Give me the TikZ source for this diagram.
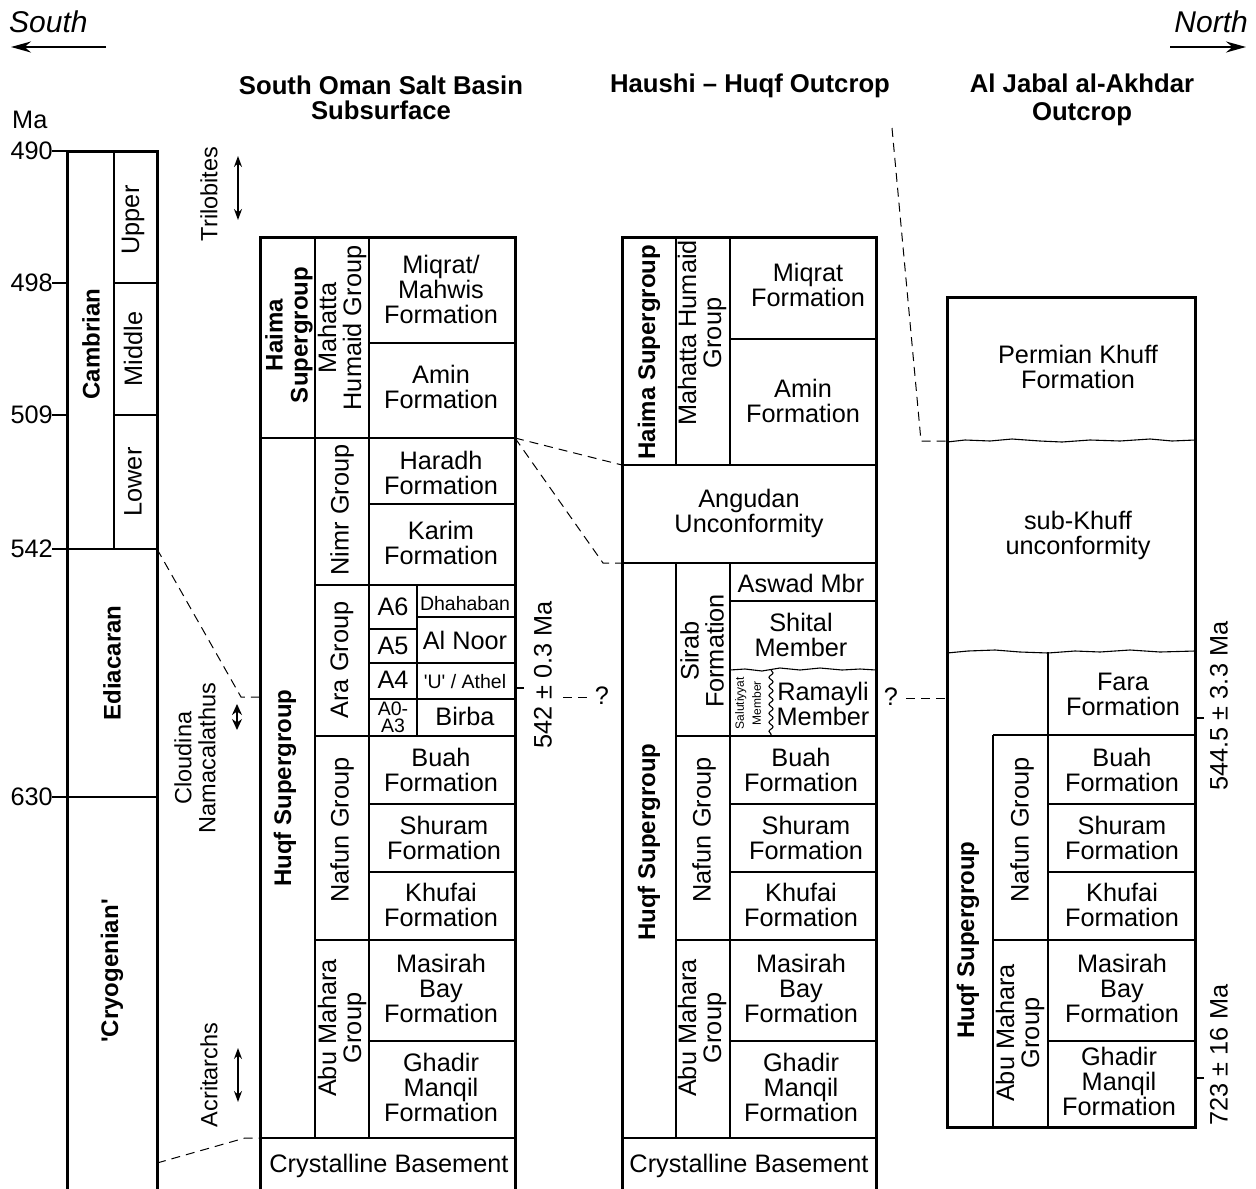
\documentclass[tikz,border=0pt]{standalone}
\usepackage{fontspec}
\setmainfont{Liberation Sans}
\usetikzlibrary{arrows.meta,decorations.pathmorphing}
\newcommand{\fz}{\fontsize{25.3}{25}\selectfont}
\newcommand{\fzb}{\fontsize{24}{25}\selectfont\bfseries}
\newcommand{\fzh}{\fontsize{25.7}{25.5}\selectfont\bfseries}
\newcommand{\fzs}{\fontsize{19.5}{17}\selectfont}
\newcommand{\fzt}{\fontsize{12}{17}\selectfont}
\begin{document}
\begin{tikzpicture}[x=1pt,y=-1pt,
  outerln/.style={line width=3pt, line join=miter},
  innerln/.style={line width=1.1pt},
  corrln/.style={line width=1pt, dash pattern=on 9pt off 6pt},
  txt/.style={font=\fz, align=center, inner sep=0pt},
  vtxt/.style={txt, rotate=90},
  btxt/.style={vtxt, font=\fzb},
  hdr/.style={txt, font=\fzh},
  fossarr/.style={line width=1.4pt, {Stealth[length=11pt,width=8pt]}-{Stealth[length=11pt,width=8pt]}},
  dirarr/.style={line width=2.2pt, -{Stealth[length=20pt,width=11pt]}},
  wavy/.style={innerln, decorate, decoration={snake, amplitude=2pt, segment length=9pt}}]
\useasboundingbox[fill=white] (0,0) rectangle (1256,1189);

% ---------- direction arrows ----------
\node[txt, font=\fontsize{30}{32}\selectfont\itshape, anchor=west] (south) at (9,22) {South};
\node[txt, font=\fontsize{30}{32}\selectfont\itshape, anchor=east] (north) at (1248,22) {North};
\coordinate (sA) at (106,47); \coordinate (sB) at (11,47);
\coordinate (nA) at (1170,47); \coordinate (nB) at (1246,47);
\draw[dirarr] (sA) -- (sB);
\draw[dirarr] (nA) -- (nB);

% ---------- headers ----------
\node[hdr] (h1) at (381,98) {South Oman Salt Basin\\Subsurface};
\node[hdr] (h2) at (750,86) {Haushi -- Huqf Outcrop};
\node[hdr, font=\fontsize{25.7}{28}\selectfont\bfseries] (h3) at (1082,100) {Al Jabal al-Akhdar\\Outcrop};

% ---------- time column ----------
\node[txt, anchor=west] (ma) at (12,120) {Ma};
\draw[outerln] (67,1189) -- (67,151) -- (157,151) -- (157,1189);
\draw[innerln] (114,151) -- (114,549);
\draw[innerln] (114,283) -- (157,283);
\draw[innerln] (114,415) -- (157,415);
\draw[innerln] (67,549) -- (157,549);
\draw[innerln] (67,797) -- (157,797);
\foreach \yy/\lab in {151/490, 283/498, 415/509, 549/542, 797/630}{
  \draw[innerln] (52,\yy) -- (67,\yy);
  \node[txt, anchor=east] (t\lab) at (53,\yy) {\lab};
}
\node[vtxt] (upper) at (133,220) {Upper};
\node[vtxt] (middle) at (133,349) {Middle};
\node[vtxt] (lower) at (133,482) {Lower};
\node[btxt] (cambrian) at (91,344) {Cambrian};
\node[btxt] (ediacaran) at (112,663) {Ediacaran};
\node[btxt] (cryo) at (112,971) {\textquotesingle Cryogenian\textquotesingle};

% ---------- fossils ----------
\node[vtxt, font=\fontsize{23.5}{24}\selectfont] (trilo) at (209,194) {Trilobites};
\coordinate (trA) at (238,156); \coordinate (trB) at (238,220);
\draw[fossarr] (trA) -- (trB);
\node[vtxt, font=\fontsize{23.5}{24}\selectfont] (cloud) at (195,758) {Cloudina\\Namacalathus};
\coordinate (clA) at (237,704); \coordinate (clB) at (237,730);
\draw[line width=1.4pt, {Stealth[length=11pt,width=10pt]}-{Stealth[length=11pt,width=10pt]}] (clA) -- (clB);
\node[vtxt, font=\fontsize{23.5}{24}\selectfont] (acri) at (209,1075) {Acritarchs};
\coordinate (acA) at (238,1048); \coordinate (acB) at (238,1102);
\draw[fossarr] (acA) -- (acB);

% ---------- column 2: South Oman Salt Basin ----------
\draw[outerln] (260,1189) -- (260,237) -- (515,237) -- (515,1189);
\draw[innerln] (315,237) -- (315,1138);
\draw[innerln] (369,237) -- (369,1138);
\draw[innerln] (417,585) -- (417,736);
\draw[innerln] (260,438) -- (515,438);
\draw[innerln] (260,1138) -- (515,1138);
\foreach \yy in {343,504,804,872,1041}{ \draw[innerln] (369,\yy) -- (515,\yy); }
\foreach \yy in {585,736,940}{ \draw[innerln] (315,\yy) -- (515,\yy); }
\foreach \yy in {629,663,699}{ \draw[innerln] (369,\yy) -- (417,\yy); }
\foreach \yy in {617,663,699}{ \draw[innerln] (417,\yy) -- (515,\yy); }

\node[btxt] (haima2) at (289,335) {Haima\\Supergroup};
\node[vtxt] (mah2) at (342,328) {Mahatta\\Humaid Group};
\node[btxt] (huqf2) at (285,788) {Huqf Supergroup};
\node[vtxt] (nimr2) at (342,510) {Nimr Group};
\node[vtxt] (ara2) at (342,660) {Ara Group};
\node[vtxt] (nafun2) at (342,830) {Nafun Group};
\node[vtxt] (abu2) at (342,1028) {Abu Mahara\\Group};

\node[txt] (miq2) at (441,289) {Miqrat/\\Mahwis\\Formation};
\node[txt] (amin2) at (441,387) {Amin\\Formation};
\node[txt] (har2) at (441,473) {Haradh\\Formation};
\node[txt] (kar2) at (441,543) {Karim\\Formation};
\node[txt] (a6) at (393,607) {A6};
\node[txt, font=\fzs] (dha) at (465,604) {Dhahaban};
\node[txt] (a5) at (393,646) {A5};
\node[txt] (alnoor) at (465,640) {Al Noor};
\node[txt] (a4) at (393,680) {A4};
\node[txt, font=\fzs] (athel) at (465,682) {\textquotesingle U\textquotesingle\ / Athel};
\node[txt, font=\fzs] (a03) at (393,717) {A0-\\A3};
\node[txt] (birba) at (465,716) {Birba};
\node[txt] (buah2) at (441,770) {Buah\\Formation};
\node[txt] (shu2) at (444,838) {Shuram\\Formation};
\node[txt] (khu2) at (441,905) {Khufai\\Formation};
\node[txt] (mas2) at (441,988) {Masirah\\Bay\\Formation};
\node[txt] (gha2) at (441,1087) {Ghadir\\Manqil\\Formation};
\node[txt] (cry2) at (389,1166) {Crystalline Basement};

% age 542
\draw[innerln] (515,688) -- (524,688);
\node[vtxt] (age542) at (543,675) {542 ± 0.3 Ma};
\coordinate (q1a) at (563,697); \coordinate (q1b) at (592,697);
\draw[corrln] (q1a) -- (q1b);
\node[txt] (q1) at (602,696) {?};

% ---------- column 3: Haushi-Huqf ----------
\draw[outerln] (622,1189) -- (622,237) -- (876,237) -- (876,1189);
\draw[innerln] (676,237) -- (676,465);
\draw[innerln] (730,237) -- (730,465);
\draw[innerln] (676,563) -- (676,1138);
\draw[innerln] (730,563) -- (730,1138);
\draw[innerln] (622,465) -- (876,465);
\draw[innerln] (622,563) -- (876,563);
\draw[innerln] (622,1138) -- (876,1138);
\draw[innerln] (730,339) -- (876,339);
\draw[innerln] (730,601) -- (876,601);
\draw[innerln] (730,670) -- (745,669) -- (762,671) -- (780,668) -- (800,670) -- (820,668) -- (842,670) -- (860,669) -- (876,670);
\draw[wavy] (771,670) -- (771,736);
\foreach \yy in {736,940}{ \draw[innerln] (676,\yy) -- (876,\yy); }
\foreach \yy in {804,872,1041}{ \draw[innerln] (730,\yy) -- (876,\yy); }

\node[btxt] (haima3) at (649,352) {Haima Supergroup};
\node[vtxt] (mah3) at (702,333) {Mahatta Humaid\\Group};
\node[vtxt] (sirab3) at (702,651) {Sirab\\Formation};
\node[btxt] (huqf3) at (649,842) {Huqf Supergroup};
\node[vtxt] (nafun3) at (704,830) {Nafun Group};
\node[vtxt] (abu3) at (702,1028) {Abu Mahara\\Group};

\node[txt] (miq3) at (808,285) {Miqrat\\Formation};
\node[txt] (amin3) at (803,401) {Amin\\Formation};
\node[txt] (ang3) at (749,513) {Angudan\\Unconformity};
\node[txt] (asw3) at (801,583) {Aswad Mbr};
\node[txt] (shi3) at (801,635) {Shital\\Member};
\node[vtxt, font=\fzt] (salu3) at (748,703) {Salutiyyat\\Member};
\node[txt] (ram3) at (823,704) {Ramayli\\Member};
\node[txt] (buah3) at (801,770) {Buah\\Formation};
\node[txt] (shu3) at (806,838) {Shuram\\Formation};
\node[txt] (khu3) at (801,905) {Khufai\\Formation};
\node[txt] (mas3) at (801,988) {Masirah\\Bay\\Formation};
\node[txt] (gha3) at (801,1087) {Ghadir\\Manqil\\Formation};
\node[txt] (cry3) at (749,1166) {Crystalline Basement};

\node[txt] (q2) at (891,697) {?};
\coordinate (q2a) at (906,698); \coordinate (q2b) at (947,698);
\draw[corrln] (q2a) -- (q2b);

% ---------- column 4: Al Jabal al-Akhdar ----------
\draw[outerln] (947,297) rectangle (1195,1127);
\draw[innerln] (947,442) -- (965,440) -- (990,441) -- (1012,439) -- (1040,441) -- (1062,442) -- (1090,440) -- (1120,441) -- (1150,439) -- (1172,441) -- (1195,440);
\draw[innerln] (947,653) -- (968,651) -- (995,650) -- (1020,652) -- (1048,653) -- (1075,651) -- (1100,652) -- (1130,650) -- (1160,652) -- (1195,651);
\draw[innerln] (1048,652) -- (1048,1127);
\draw[innerln] (993,735) -- (993,1127);
\foreach \yy in {735,940}{ \draw[innerln] (993,\yy) -- (1195,\yy); }
\foreach \yy in {804,872,1041}{ \draw[innerln] (1048,\yy) -- (1195,\yy); }

\node[txt] (perm4) at (1078,367) {Permian Khuff\\Formation};
\node[txt] (subk4) at (1078,535) {sub-Khuff\\unconformity};
\node[btxt] (huqf4) at (968,940) {Huqf Supergroup};
\node[vtxt] (nafun4) at (1022,830) {Nafun Group};
\node[vtxt] (abu4) at (1020,1033) {Abu Mahara\\Group};
\node[txt] (fara4) at (1123,694) {Fara\\Formation};
\node[txt] (buah4) at (1122,770) {Buah\\Formation};
\node[txt] (shu4) at (1122,838) {Shuram\\Formation};
\node[txt] (khu4) at (1122,905) {Khufai\\Formation};
\node[txt] (mas4) at (1122,988) {Masirah\\Bay\\Formation};
\node[txt] (gha4) at (1119,1081) {Ghadir\\Manqil\\Formation};

\draw[innerln] (1195,718) -- (1204,718);
\node[vtxt] (age544) at (1219,706) {544.5 ± 3.3 Ma};
\draw[innerln] (1195,1078) -- (1204,1078);
\node[vtxt] (age723) at (1219,1055) {723 ± 16 Ma};

% ---------- correlation lines ----------
\coordinate (c1a) at (157,549); \coordinate (c1b) at (241,697); \coordinate (c1c) at (260,697);
\draw[corrln] (c1a) -- (c1b) -- (c1c);
\coordinate (c2a) at (157,1163); \coordinate (c2b) at (245,1138); \coordinate (c2c) at (260,1138);
\draw[corrln] (c2a) -- (c2b) -- (c2c);
\coordinate (c3a) at (515,438); \coordinate (c3b) at (622,465);
\draw[corrln] (c3a) -- (c3b);
\coordinate (c4b) at (603,563); \coordinate (c4c) at (622,563);
\draw[corrln] (c3a) -- (c4b) -- (c4c);
\coordinate (c5a) at (892,128); \coordinate (c5b) at (921,441); \coordinate (c5c) at (947,441);
\draw[corrln] (c5a) -- (c5b) -- (c5c);
\end{tikzpicture}
\end{document}
